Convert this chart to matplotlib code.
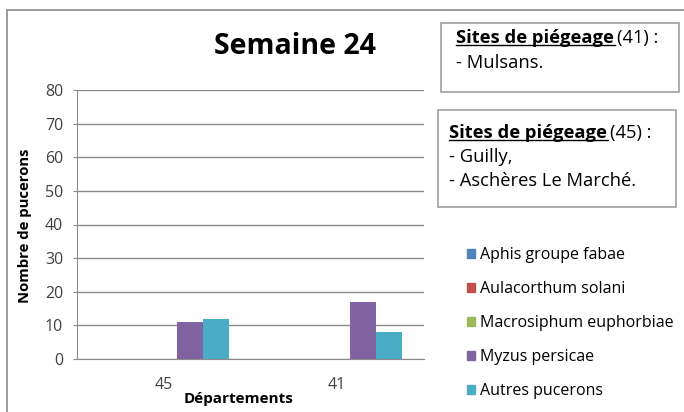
import numpy as np
import matplotlib
matplotlib.use("Agg")
from matplotlib import pyplot as plt
from matplotlib.patches import Rectangle
from matplotlib.lines import Line2D

# Data
departements = ["45", "41"]
especes = ["Aphis groupe fabae", "Aulacorthum solani", "Macrosiphum euphorbiae",
           "Myzus persicae", "Autres pucerons"]
aphis = [0, 0]
aulacorthum = [0, 0]
macrosiphum = [0, 0]
myzus = [11, 17]
autres = [12, 8]
couleurs = ["#4F81BD", "#C0504D", "#9BBB59", "#8064A2", "#4BACC6"]

plt.rcParams['font.family'] = ['Open Sans', 'DejaVu Sans']

W, H = 684, 412
fig = plt.figure(figsize=(W / 100, H / 100), dpi=100)


def fx(x):
    return x / W


def fy(y):
    return 1 - y / H


# outer frame
fig.patches.append(Rectangle((fx(7), fy(H + 20)), fx(700), fy(10) - fy(H + 20),
                             transform=fig.transFigure, fill=False,
                             edgecolor="#8c8c8c", linewidth=1.2))

ax = fig.add_axes([fx(77), fy(359), fx(424) - fx(77), fy(90) - fy(359)])
series = [aphis, aulacorthum, macrosiphum, myzus, autres]
x = np.arange(len(departements))
w = 0.15
for i, (vals, c, lab) in enumerate(zip(series, couleurs, especes)):
    ax.bar(x + (i - 2) * w, vals, width=w, color=c, label=lab, zorder=3)

ax.set_xlim(-0.5, 1.5)
ax.set_ylim(0, 80)
ax.set_yticks(range(0, 81, 10))
ax.set_xticks(x)
ax.set_xticklabels(departements)
ax.grid(axis="y", color="#8c8c8c", linewidth=1, zorder=0)
for s in ["top", "right"]:
    ax.spines[s].set_visible(False)
ax.spines["left"].set_color("#8c8c8c")
ax.spines["bottom"].set_color("#8c8c8c")
ax.tick_params(axis="y", labelsize=11.5, colors="#8c8c8c", labelcolor="#404040", length=3, pad=7)
ax.tick_params(axis="x", labelsize=11.5, length=0, pad=13, labelcolor="#404040")

fig.text(fx(25), fy(226), "Nombre de pucerons", rotation=90, ha="center", va="center",
         fontsize=10.7, fontweight="bold")
fig.text(fx(239), fy(399), "Départements", ha="center", va="center",
         fontsize=11, fontweight="bold")
fig.text(fx(295), fy(47), "Semaine 24", ha="center", va="center",
         fontsize=20.5, fontweight="bold")

# text boxes
fig.patches.append(Rectangle((fx(441), fy(92)), fx(679) - fx(441), fy(23) - fy(92),
                             transform=fig.transFigure, fill=False,
                             edgecolor="#a0a0a0", linewidth=1.2))
fig.patches.append(Rectangle((fx(438), fy(207)), fx(676) - fx(438), fy(110) - fy(207),
                             transform=fig.transFigure, fill=False,
                             edgecolor="#a0a0a0", linewidth=1.2))

fs_box = 13.2
titres = []
for (tx, ty, num) in [(456, 38, "41"), (449, 133, "45")]:
    t = fig.text(fx(tx), fy(ty), "Sites de piégeage", ha="left", va="center",
                 fontsize=fs_box, fontweight="bold")
    titres.append((t, num, ty))
fig.text(fx(456), fy(63), "- Mulsans.", ha="left", va="center", fontsize=fs_box)
fig.text(fx(449), fy(157), "- Guilly,", ha="left", va="center", fontsize=fs_box)
fig.text(fx(449), fy(181), "- Aschères Le Marché.", ha="left", va="center", fontsize=fs_box)

fig.canvas.draw()
r = fig.canvas.get_renderer()
for t, num, ty in titres:
    bb = t.get_window_extent(r)
    fig.text(bb.x1 / W + fx(3), fy(ty), f"({num}) :", ha="left", va="center", fontsize=fs_box)
    yl = bb.y0 + 2
    fig.lines.append(Line2D([bb.x0 / W, bb.x1 / W + fx(1)], [yl / H, yl / H],
                            transform=fig.transFigure, color="black", linewidth=1))

# legend
handles = [Rectangle((0, 0), 1, 1, color=c) for c in couleurs]
fig.legend(handles, especes, loc="upper left", bbox_to_anchor=(fx(453), fy(233)),
           frameon=False, fontsize=11.5, handlelength=0.5, handleheight=0.5,
           handletextpad=0.3, labelspacing=1.12)

fig.savefig("out.png", dpi=100)
plt.close(fig)
